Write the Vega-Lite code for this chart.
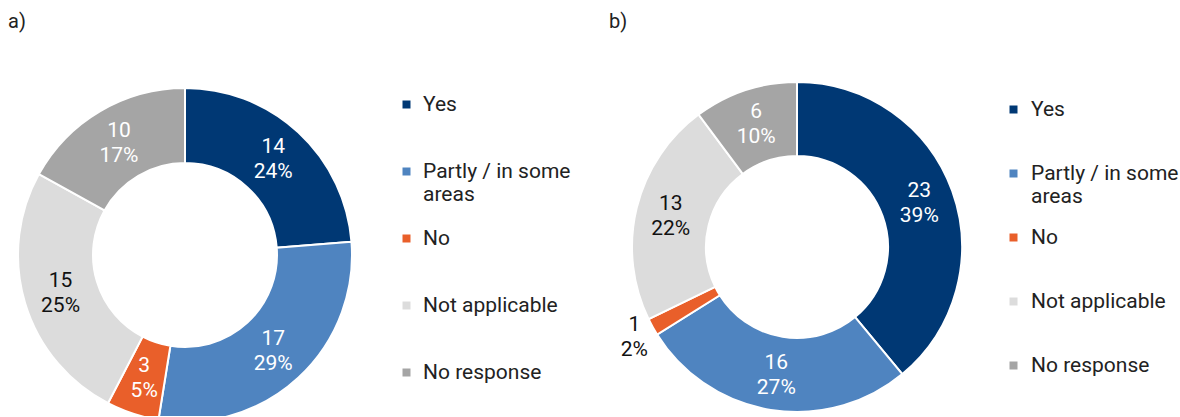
{
  "$schema": "https://vega.github.io/schema/vega-lite/v6.json",
  "padding": {"left": 8, "top": 12, "right": 0, "bottom": 0},
  "autosize": {"type": "pad"},
  "background": "white",
  "bounds": "flush",
  "spacing": 280,
  "config": {
    "font": "Roboto",
    "view": {"stroke": null},
    "title": {"fontSize": 20, "fontWeight": "normal", "anchor": "start", "color": "#222222", "font": "Roboto", "frame": "group"},
    "legend": {"labelFont": "Roboto", "labelFontSize": 21, "labelColor": "#222222", "symbolType": "square", "symbolSize": 64, "symbolStrokeWidth": 0, "labelLimit": 300}
  },
  "datasets": {
    "a": [
      {"category": "Yes", "value": 14, "pct": "24%"},
      {"category": "Partly / in some areas", "value": 17, "pct": "29%"},
      {"category": "No", "value": 3, "pct": "5%"},
      {"category": "Not applicable", "value": 15, "pct": "25%"},
      {"category": "No response", "value": 10, "pct": "17%"}
    ],
    "b": [
      {"category": "Yes", "value": 23, "pct": "39%"},
      {"category": "Partly / in some areas", "value": 16, "pct": "27%"},
      {"category": "No", "value": 1, "pct": "2%"},
      {"category": "Not applicable", "value": 13, "pct": "22%"},
      {"category": "No response", "value": 6, "pct": "10%"}
    ]
  },
  "resolve": {"scale": {"color": "independent"}},
  "hconcat": [
    {
      "width": 334,
      "height": 334,
      "title": {"text": "a)", "dx": -10, "offset": 50},
      "data": {"name": "a"},
      "transform": [{"window": [{"op": "row_number", "as": "rank"}]}],
      "encoding": {
        "theta": {"field": "value", "type": "quantitative", "stack": true},
        "order": {"field": "rank", "type": "quantitative"}
      },
      "layer": [
        {
          "mark": {"type": "arc", "outerRadius": 167, "innerRadius": 92, "stroke": "white", "strokeWidth": 2, "clip": true, "yOffset": 6},
          "encoding": {
            "color": {
              "field": "category", "type": "nominal", "sort": null,
              "scale": {"domain": ["Yes", "Partly / in some areas", "No", "Not applicable", "No response"], "range": ["#003874", "#4F84C0", "#E95F2A", "#DCDCDC", "#A5A5A5"]},
              "legend": {"title": null, "orient": "none", "legendX": 378, "legendY": 12, "rowPadding": 22, "gridAlign": "all", "labelOffset": 6,
                "labelExpr": "datum.label == 'Partly / in some areas' ? ['Partly / in some', 'areas'] : datum.label"}
            }
          }
        },
        {
          "mark": {"type": "text", "radius": {"expr": "datum.value < 2 ? 186 : 130"}, "fontSize": 21, "dy": -12, "yOffset": 6, "font": "Roboto"},
          "encoding": {
            "detail": {"field": "category", "type": "nominal"},
            "text": {"field": "value", "type": "nominal"},
            "color": {"condition": {"test": "datum.category == 'Not applicable' || datum.value < 2", "value": "#111111"}, "value": "#ffffff"}
          }
        },
        {
          "mark": {"type": "text", "radius": {"expr": "datum.value < 2 ? 186 : 130"}, "fontSize": 21, "dy": 13, "yOffset": 6, "font": "Roboto"},
          "encoding": {
            "detail": {"field": "category", "type": "nominal"},
            "text": {"field": "pct", "type": "nominal"},
            "color": {"condition": {"test": "datum.category == 'Not applicable' || datum.value < 2", "value": "#111111"}, "value": "#ffffff"}
          }
        }
      ]
    },
    {
      "width": 330,
      "height": 334,
      "title": {"text": "b)", "dx": -23, "offset": 50},
      "data": {"name": "b"},
      "transform": [{"window": [{"op": "row_number", "as": "rank"}]}],
      "encoding": {
        "theta": {"field": "value", "type": "quantitative", "stack": true},
        "order": {"field": "rank", "type": "quantitative"}
      },
      "layer": [
        {
          "mark": {"type": "arc", "outerRadius": 165, "innerRadius": 91, "stroke": "white", "strokeWidth": 2, "clip": true, "yOffset": -2},
          "encoding": {
            "color": {
              "field": "category", "type": "nominal", "sort": null,
              "scale": {"domain": ["Yes", "Partly / in some areas", "No", "Not applicable", "No response"], "range": ["#003874", "#4F84C0", "#E95F2A", "#DCDCDC", "#A5A5A5"]},
              "legend": {"title": null, "orient": "none", "legendX": 371, "legendY": 17, "rowPadding": 19, "gridAlign": "all", "labelOffset": 7,
                "labelExpr": "datum.label == 'Partly / in some areas' ? ['Partly / in some', 'areas'] : datum.label"}
            }
          }
        },
        {
          "mark": {"type": "text", "radius": {"expr": "datum.value < 2 ? 186 : 130"}, "fontSize": 21, "dy": -12, "yOffset": -2, "font": "Roboto"},
          "encoding": {
            "detail": {"field": "category", "type": "nominal"},
            "text": {"field": "value", "type": "nominal"},
            "color": {"condition": {"test": "datum.category == 'Not applicable' || datum.value < 2", "value": "#111111"}, "value": "#ffffff"}
          }
        },
        {
          "mark": {"type": "text", "radius": {"expr": "datum.value < 2 ? 186 : 130"}, "fontSize": 21, "dy": 13, "yOffset": -2, "font": "Roboto"},
          "encoding": {
            "detail": {"field": "category", "type": "nominal"},
            "text": {"field": "pct", "type": "nominal"},
            "color": {"condition": {"test": "datum.category == 'Not applicable' || datum.value < 2", "value": "#111111"}, "value": "#ffffff"}
          }
        }
      ]
    }
  ]
}
